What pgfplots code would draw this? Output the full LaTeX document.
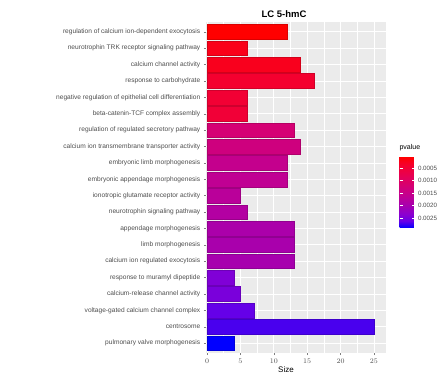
\documentclass[border=0pt]{standalone}
\usepackage{pgfplots}
\pgfplotsset{compat=1.18}
\usepackage{fontspec}
\setmainfont{Liberation Sans}

\definecolor{panelgray}{HTML}{EBEBEB}
\definecolor{ticktext}{HTML}{4D4D4D}
\definecolor{tickmark}{HTML}{7F7F7F}

% GO terms: row index (top = 1), gene count, p-value
\pgfplotstableread{
idx size p
1  12 0.00006
2  6  0.00023
3  14 0.00026
4  16 0.00040
5  6  0.00046
6  6  0.00049
7  13 0.00120
8  14 0.00134
9  12 0.00154
10 12 0.00162
11 5  0.00171
12 6  0.00182
13 13 0.00193
14 13 0.00196
15 13 0.00199
16 4  0.00242
17 5  0.00247
18 7  0.00262
19 25 0.00270
20 4  0.00290
}\goterms

% red -> blue gradient interpolated in Lab space (low p = red)
\pgfplotsset{
  colormap={gglab}{rgb255=(255,0,0) rgb255=(246,0,42) rgb255=(237,0,68)
    rgb255=(226,0,92) rgb255=(213,0,115) rgb255=(200,0,137)
    rgb255=(183,0,158) rgb255=(162,0,179) rgb255=(140,0,207)
    rgb255=(104,0,231) rgb255=(0,0,255)},
  colormap={gglabrev}{rgb255=(0,0,255) rgb255=(104,0,231) rgb255=(140,0,207)
    rgb255=(162,0,179) rgb255=(183,0,158) rgb255=(200,0,137)
    rgb255=(213,0,115) rgb255=(226,0,92) rgb255=(237,0,68)
    rgb255=(246,0,42) rgb255=(255,0,0)},
  colormap name=gglab,
}

% one fill colour per bar, looked up from its p-value (range 0.00006 .. 0.0029)
\pgfplotsforeachungrouped \i in {0,...,19}{%
  \pgfplotstablegetelem{\i}{p}\of\goterms
  \pgfmathsetmacro\cv{min(1000,max(0,((\pgfplotsretval*1000)*100-6)/0.284))}%
  \pgfplotscolormapdefinemappedcolor{\cv}%
  \colorlet{bar\i}{mapped color}%
}

\begin{document}
\begin{tikzpicture}
\path[use as bounding box] (0,0) rectangle (442pt,375pt);
\begin{axis}[
  at={(206pt,22pt)}, anchor=south west,
  scale only axis, width=180pt, height=331pt,
  xmin=-0.15, xmax=26.8,
  ymin=0.4, ymax=20.6, y dir=reverse,
  axis background/.style={fill=panelgray},
  axis line style={draw=none},
  xtick={0,5,...,25},
  minor xtick={2.5,7.5,...,22.5},
  ytick={1,...,20},
  yticklabels={
    {regulation of calcium ion-dependent exocytosis},
    {neurotrophin TRK receptor signaling pathway},
    {calcium channel activity},
    {response to carbohydrate},
    {negative regulation of epithelial cell differentiation},
    {beta-catenin-TCF complex assembly},
    {regulation of regulated secretory pathway},
    {calcium ion transmembrane transporter activity},
    {embryonic limb morphogenesis},
    {embryonic appendage morphogenesis},
    {ionotropic glutamate receptor activity},
    {neurotrophin signaling pathway},
    {appendage morphogenesis},
    {limb morphogenesis},
    {calcium ion regulated exocytosis},
    {response to muramyl dipeptide},
    {calcium-release channel activity},
    {voltage-gated calcium channel complex},
    {centrosome},
    {pulmonary valve morphogenesis}},
  xtick pos=bottom, ytick pos=left,
  tick align=outside,
  major tick length=2.2pt, minor tick length=0pt,
  tick style={draw=tickmark, line width=0.5pt},
  grid=both,
  major grid style={draw=white, line width=0.8pt},
  minor grid style={draw=white, line width=0.4pt},
  ticklabel style={text=ticktext, font=\fontsize{6.6}{7}\selectfont},
  xticklabel style={yshift=-0.5pt},
  point meta min=0.00006, point meta max=0.0029,
  colorbar,
  colorbar style={
    at={(parent axis.south east)}, anchor=south west,
    xshift=5pt, yshift=125pt,
    width=15pt, height=71pt,
    colormap name=gglabrev,
    axis line style={draw=none},
    scaled y ticks=false,
    % low p-values sit at the top of the bar
    ytick={0.00246,0.00196,0.00146,0.00096,0.00046},
    yticklabels={0.0005,0.0010,0.0015,0.0020,0.0025},
    yticklabel style={text=ticktext, font=\fontsize{6.2}{7}\selectfont},
    ytick pos=both, yticklabel pos=right,
    tick align=inside, major tick length=3pt,
    ytick style={draw=white, line width=0.5pt},
  },
]
\pgfplotsinvokeforeach{0,...,19}{
  \addplot[xbar, bar shift=0pt, bar width=0.9,
    fill=bar#1, draw=bar#1!85!black, line width=0.3pt,
    x filter/.expression={\coordindex==#1 ? x : nan}]
    table[x=size, y=idx] {\goterms};
}
\end{axis}
\node[font=\bfseries\fontsize{9.5}{11}\selectfont] at (284pt,361pt) {LC 5-hmC};
\node[font=\fontsize{8}{9}\selectfont, text=black] at (286pt,5pt) {Size};
\node[font=\fontsize{7}{8}\selectfont, anchor=west] at (396pt,227pt) {pvalue};
\end{tikzpicture}
\end{document}
